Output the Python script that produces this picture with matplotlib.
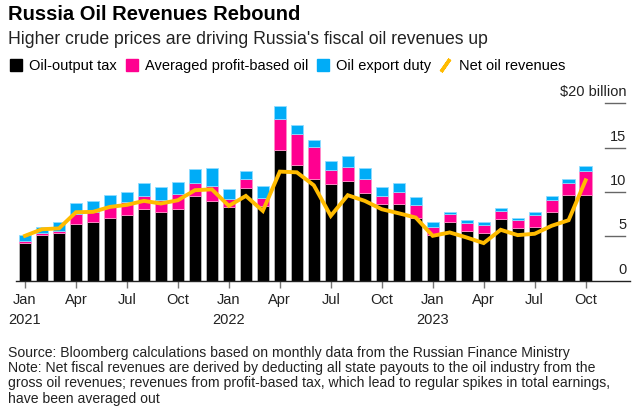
import numpy as np
import matplotlib.pyplot as plt
from matplotlib.lines import Line2D

plt.rcParams['font.family'] = ['Liberation Sans', 'DejaVu Sans']

# monthly data, Jan 2021 - Oct 2023, $ billion
months = ['Jan 2021', 'Feb 2021', 'Mar 2021', 'Apr 2021', 'May 2021', 'Jun 2021',
          'Jul 2021', 'Aug 2021', 'Sep 2021', 'Oct 2021', 'Nov 2021', 'Dec 2021',
          'Jan 2022', 'Feb 2022', 'Mar 2022', 'Apr 2022', 'May 2022', 'Jun 2022',
          'Jul 2022', 'Aug 2022', 'Sep 2022', 'Oct 2022', 'Nov 2022', 'Dec 2022',
          'Jan 2023', 'Feb 2023', 'Mar 2023', 'Apr 2023', 'May 2023', 'Jun 2023',
          'Jul 2023', 'Aug 2023', 'Sep 2023', 'Oct 2023']
output_tax = [4.3, 5.2, 5.4, 6.4, 6.6, 7.1, 7.4, 8.1, 7.7, 8.1, 9.5, 9.0,
              8.3, 10.5, 8.4, 14.7, 13.0, 11.5, 10.9, 11.2, 9.9, 8.6, 8.6, 7.1,
              5.1, 6.6, 5.6, 5.4, 7.0, 5.9, 6.0, 7.8, 9.7, 9.7]
profit_based = [0.15, 0.2, 0.15, 1.13, 1.13, 1.2, 1.42, 1.5, 1.42, 1.72, 1.57, 1.66,
                0.94, 1.01, 0.98, 3.56, 3.57, 3.57, 1.61, 1.58, 1.57, 0.98, 1.39, 1.39,
                0.97, 0.93, 0.94, 0.9, 0.83, 0.9, 1.39, 1.31, 1.31, 2.66]
export_duty = [0.71, 0.71, 1.05, 1.27, 1.27, 1.32, 1.23, 1.39, 1.46, 1.28, 1.58, 2.0,
               1.08, 0.83, 1.35, 1.46, 0.93, 0.82, 0.98, 1.27, 1.24, 1.01, 1.05, 0.94,
               0.53, 0.27, 0.26, 0.3, 0.37, 0.3, 0.37, 0.49, 0.49, 0.6]
net_revenues = [5.06, 5.8, 5.9, 7.72, 7.76, 8.32, 8.55, 9.0, 8.7, 9.07, 10.2, 10.3,
                8.44, 9.56, 7.87, 12.3, 12.22, 10.76, 7.31, 9.64, 9.0, 8.06, 7.6, 7.12,
                5.06, 5.44, 4.87, 4.24, 5.74, 5.14, 5.29, 6.19, 6.82, 11.32]
y_ticks = [0, 5, 10, 15, 20]
y_labels = ['0', '5', '10', '15', '$20 billion']

BLACK = '#000000'
PINK = '#ff0090'
BLUE = '#00acf7'
YELLOW = '#ffbb00'

x = np.arange(len(months))
tax = np.array(output_tax)
prof = np.array(profit_based)

fig = plt.figure(figsize=(6.4, 4.12), dpi=100)
ax = fig.add_axes([0.025, 0.3187, 0.959, 0.4413])

w = 0.72
ax.bar(x, tax, w, color=BLACK, edgecolor='#bbbbbb', linewidth=0.6, zorder=2)
ax.bar(x, prof, w, bottom=tax, color=PINK, edgecolor='#ff8cc8', linewidth=0.6, zorder=2)
ax.bar(x, export_duty, w, bottom=tax + prof, color=BLUE, edgecolor='#8fdcff',
       linewidth=0.6, zorder=2)
ax.plot(x, net_revenues, color=YELLOW, lw=2.8, solid_joinstyle='miter', zorder=3)

ax.set_xlim(-0.53, 35.6)
ax.set_ylim(0, 20.5)

# y labels sit on short lines at the right edge
for v, lab in zip(y_ticks, y_labels):
    if v > 0:
        ax.axhline(v, xmin=0.96, xmax=0.992, color='#666666', lw=1.0, zorder=1)
    ax.text(35.4, v + 0.45, lab, ha='right', va='bottom', fontsize=10.5,
            color='#222222')
ax.set_yticks([])

tick_pos = x[::3]
tick_lab = []
for m in months[::3]:
    mon, yr = m.split()
    tick_lab.append(mon + '\n' + yr if mon == 'Jan' else mon)
ax.set_xticks(tick_pos)
ax.set_xticklabels(tick_lab, fontsize=10.5, color='#222222', linespacing=1.5)
ax.tick_params(axis='x', length=5, width=1, color='#777777', pad=4)

for s in ['top', 'right', 'left']:
    ax.spines[s].set_visible(False)
ax.spines['bottom'].set_color('#222222')
ax.spines['bottom'].set_linewidth(1.0)

fig.text(0.0125, 0.988, 'Russia Oil Revenues Rebound', fontsize=14.5,
         fontweight='bold', va='top', ha='left')
fig.text(0.0125, 0.925, "Higher crude prices are driving Russia's fiscal oil revenues up",
         fontsize=12.7, va='top', ha='left', color='#222222')

handles = [
    Line2D([], [], ls='none', marker='s', ms=8, color=BLACK),
    Line2D([], [], ls='none', marker='s', ms=8, color=PINK),
    Line2D([], [], ls='none', marker='s', ms=8, color=BLUE),
    Line2D([], [], ls='none', marker=(2, 2, -35), ms=11, mew=2.5, color=YELLOW),
]
fig.legend(handles, ['Oil-output tax', 'Averaged profit-based oil', 'Oil export duty',
                     'Net oil revenues'],
           loc='center left', bbox_to_anchor=(0.0, 0.84), ncol=4, frameon=False,
           fontsize=10.5, handlelength=0.8, handletextpad=0.5, columnspacing=0.6,
           borderpad=0.2)

fig.text(0.0125, 0.161,
         'Source: Bloomberg calculations based on monthly data from the Russian Finance Ministry\n'
         'Note: Net fiscal revenues are derived by deducting all state payouts to the oil industry from the\n'
         'gross oil revenues; revenues from profit-based tax, which lead to regular spikes in total earnings,\n'
         'have been averaged out',
         fontsize=10.1, va='top', ha='left', color='#222222', linespacing=1.12)

fig.savefig('out.png', dpi=100)
